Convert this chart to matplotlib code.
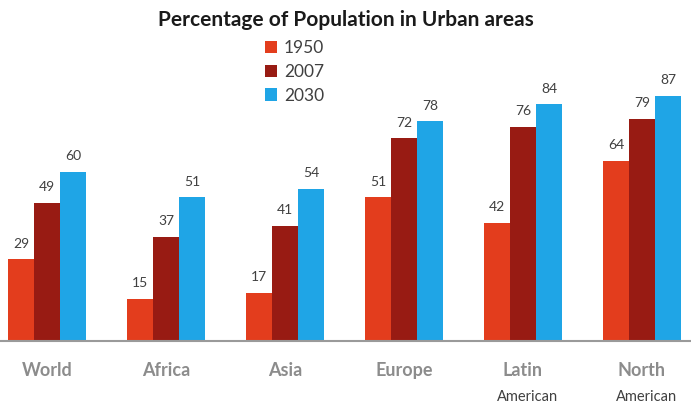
import matplotlib
matplotlib.use('Agg')
import matplotlib.pyplot as plt
import numpy as np

# values
regions = ['World', 'Africa', 'Asia', 'Europe', 'Latin', 'North']
sub_labels = ['', '', '', '', 'American', 'American']
years = ['1950', '2007', '2030']
urban_1950 = [29, 15, 17, 51, 42, 64]
urban_2007 = [49, 37, 41, 72, 76, 79]
urban_2030 = [60, 51, 54, 78, 84, 87]

colors = ['#e33d1d', '#981b13', '#1fa5e6']

plt.rcParams['font.family'] = ['Lato', 'DejaVu Sans']

fig = plt.figure(figsize=(6.91, 4.16), dpi=100)
ax = fig.add_axes([0, 0.1803, 1, 0.8197])

x = np.arange(len(regions))
w = 0.219
series = [urban_1950, urban_2007, urban_2030]
for k, (vals, col, yr) in enumerate(zip(series, colors, years)):
    pos = x + (k - 1) * w
    ax.bar(pos, vals, width=w, color=col, label=yr, zorder=2)
    for px, v in zip(pos, vals):
        ax.annotate(str(v), (px, v), xytext=(0, 7), textcoords='offset points',
                    ha='center', va='bottom', fontsize=10, color='#404040')

ax.set_xlim(-0.395, 5.412)
ax.set_ylim(0, 121.1)

for s in ['top', 'right', 'left']:
    ax.spines[s].set_visible(False)
ax.spines['bottom'].set_color('#9a9a9a')
ax.spines['bottom'].set_linewidth(1.5)
ax.set_yticks([])
ax.set_xticks(x)
ax.set_xticklabels(regions, fontsize=13, fontweight='bold', color='#8c8c8c')
ax.tick_params(axis='x', length=0, pad=15)

for px, s in zip(x, sub_labels):
    if s:
        ax.annotate(s, (px, 0), xytext=(3, -40), textcoords='offset points',
                    ha='center', va='center', fontsize=10.5, color='#404040')

fig.text(0.5, 0.952, 'Percentage of Population in Urban areas', ha='center', va='center',
         fontsize=15, fontweight='bold', color='#1a1a1a')

fig.legend(loc='upper left', bbox_to_anchor=(258 / 691, 1 - 33 / 416), frameon=False, fontsize=12.5,
           handlelength=0.7, handleheight=0.7, handletextpad=0.4, labelspacing=0.45,
           labelcolor='#404040', borderaxespad=0)

fig.savefig('out.png', dpi=100)
